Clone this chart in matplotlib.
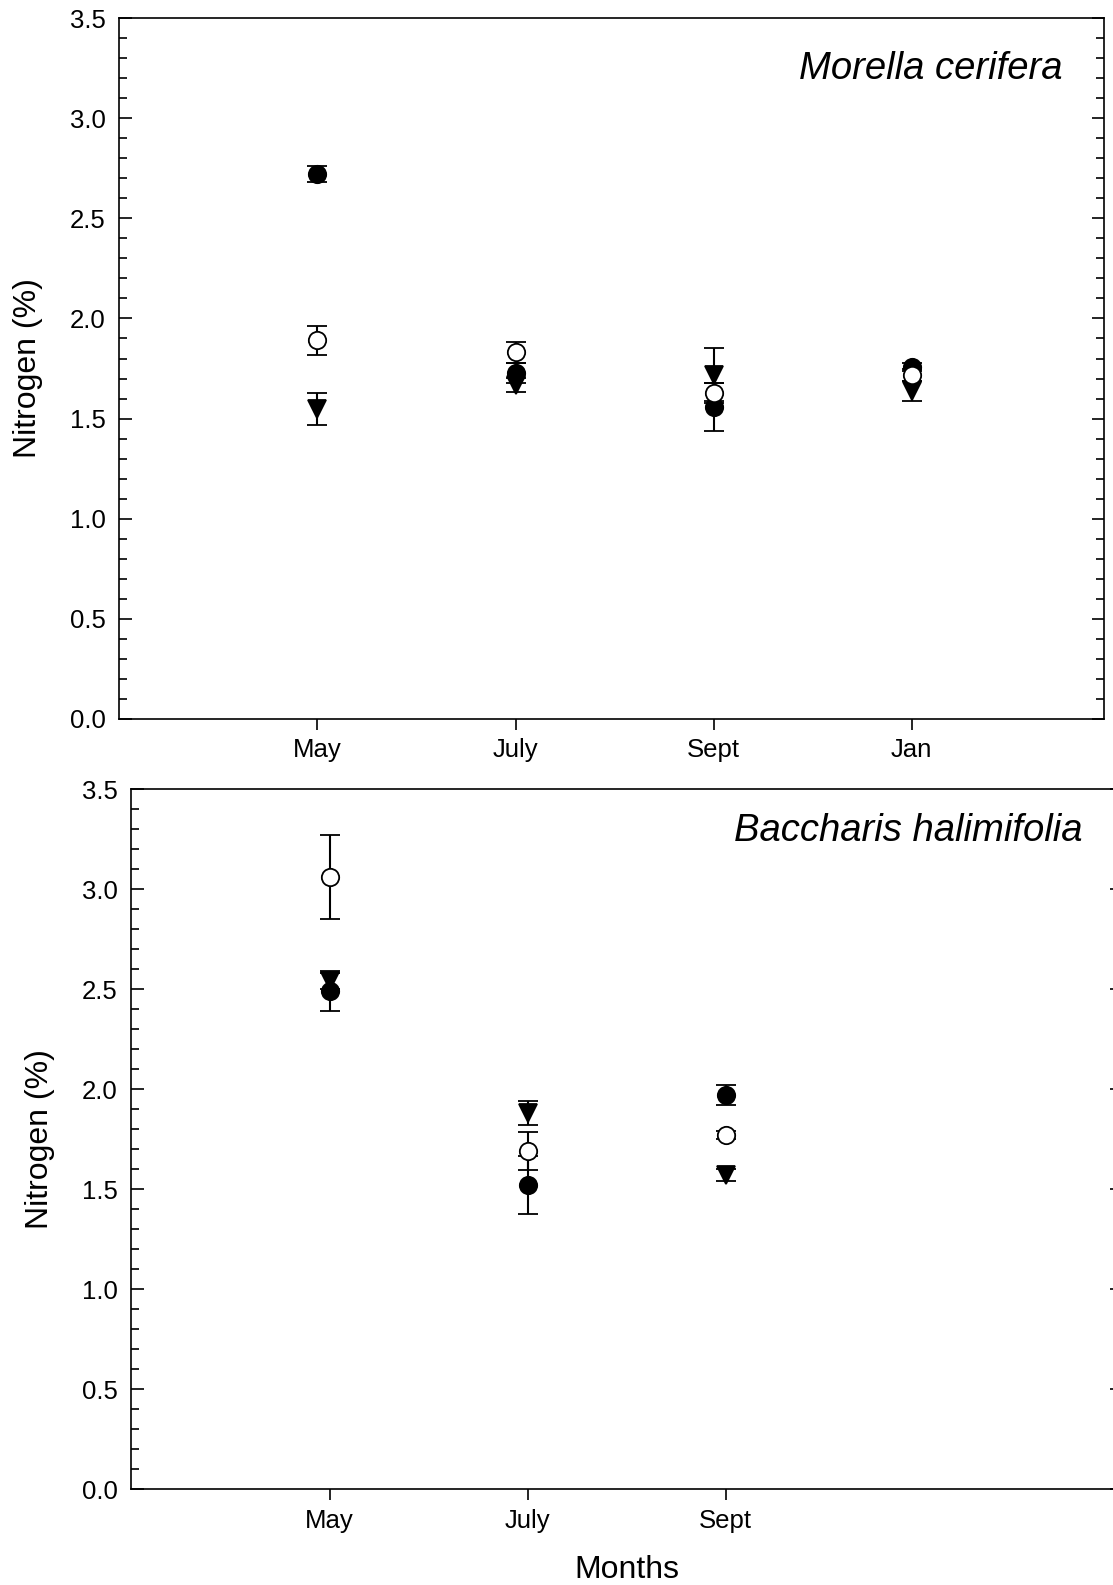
import matplotlib.pyplot as plt
from matplotlib.ticker import MultipleLocator

plt.rcParams['font.family'] = ['Liberation Sans', 'DejaVu Sans']

# top panel: Morella cerifera
months_top = ["May", "July", "Sept", "Jan"]
filled_top = [2.72, 1.73, 1.56, 1.76]
filled_top_err = [0.04, 0.05, 0.12, 0.02]
open_top = [1.89, 1.83, 1.63, 1.72]
open_top_err = [0.07, 0.05, 0.05, 0.03]
tri_top = [1.55, 1.67, 1.72, 1.64]
tri_top_err = [0.08, 0.035, 0.13, 0.05]

# bottom panel: Baccharis halimifolia
months_bot = ["May", "July", "Sept"]
filled_bot = [2.49, 1.52, 1.97]
filled_bot_err = [0.10, 0.145, 0.05]
open_bot = [3.06, 1.69, 1.77]
open_bot_err = [0.21, 0.095, 0.02]
tri_bot = [2.54, 1.88, 1.57]
tri_bot_err = [0.04, 0.06, 0.03]


def draw_panel(ax, months, filled, filled_err, opened, opened_err, tri, tri_err, xmax):
    x = list(range(1, len(months) + 1))
    style = dict(ls='none', color='black', ecolor='black', elinewidth=1.5,
                 capsize=7.5, capthick=1.5, markersize=12.5, markeredgewidth=1.3)
    ax.errorbar(x, filled, yerr=filled_err, fmt='o', mfc='black', mec='black', **style)
    ax.errorbar(x, tri, yerr=tri_err, fmt='v', mfc='black', mec='black', **style)
    ax.errorbar(x, opened, yerr=opened_err, fmt='o', mfc='white', mec='black', **style)
    ax.set_xlim(0, xmax)
    ax.set_ylim(0, 3.5)
    ax.set_xticks(x)
    ax.set_xticklabels(months)
    ax.yaxis.set_major_locator(MultipleLocator(0.5))
    ax.yaxis.set_minor_locator(MultipleLocator(0.1))
    ax.yaxis.set_major_formatter(plt.FormatStrFormatter('%.1f'))
    ax.tick_params(axis='y', which='both', direction='in', right=True, labelsize=18.5,
                   width=1.2, pad=10)
    ax.tick_params(axis='y', which='major', length=9)
    ax.tick_params(axis='y', which='minor', length=6)
    ax.tick_params(axis='x', direction='out', length=8, width=1.2, labelsize=18.5, pad=6)
    for s in ax.spines.values():
        s.set_linewidth(1.2)
    ax.set_ylabel("Nitrogen (%)", fontsize=23, labelpad=19)


fig = plt.figure(figsize=(11.13, 15.85), dpi=100)

ax1 = fig.add_axes([0.1072, 0.5465, 0.8846, 0.4420])
draw_panel(ax1, months_top, filled_top, filled_top_err, open_top, open_top_err,
           tri_top, tri_top_err, 4.97)
ax1.text(4.76, 3.196, "Morella cerifera", style='italic', fontsize=27.5, ha='right', va='baseline')

ax2 = fig.add_axes([0.1181, 0.0605, 0.8900, 0.4414])
draw_panel(ax2, months_bot, filled_bot, filled_bot_err, open_bot, open_bot_err,
           tri_bot, tri_bot_err, 5.0)
ax2.text(4.80, 3.242, "Baccharis halimifolia", style='italic', fontsize=27.5, ha='right', va='baseline')
ax2.set_xlabel("Months", fontsize=23, labelpad=16)

fig.savefig("out.png", dpi=100)
